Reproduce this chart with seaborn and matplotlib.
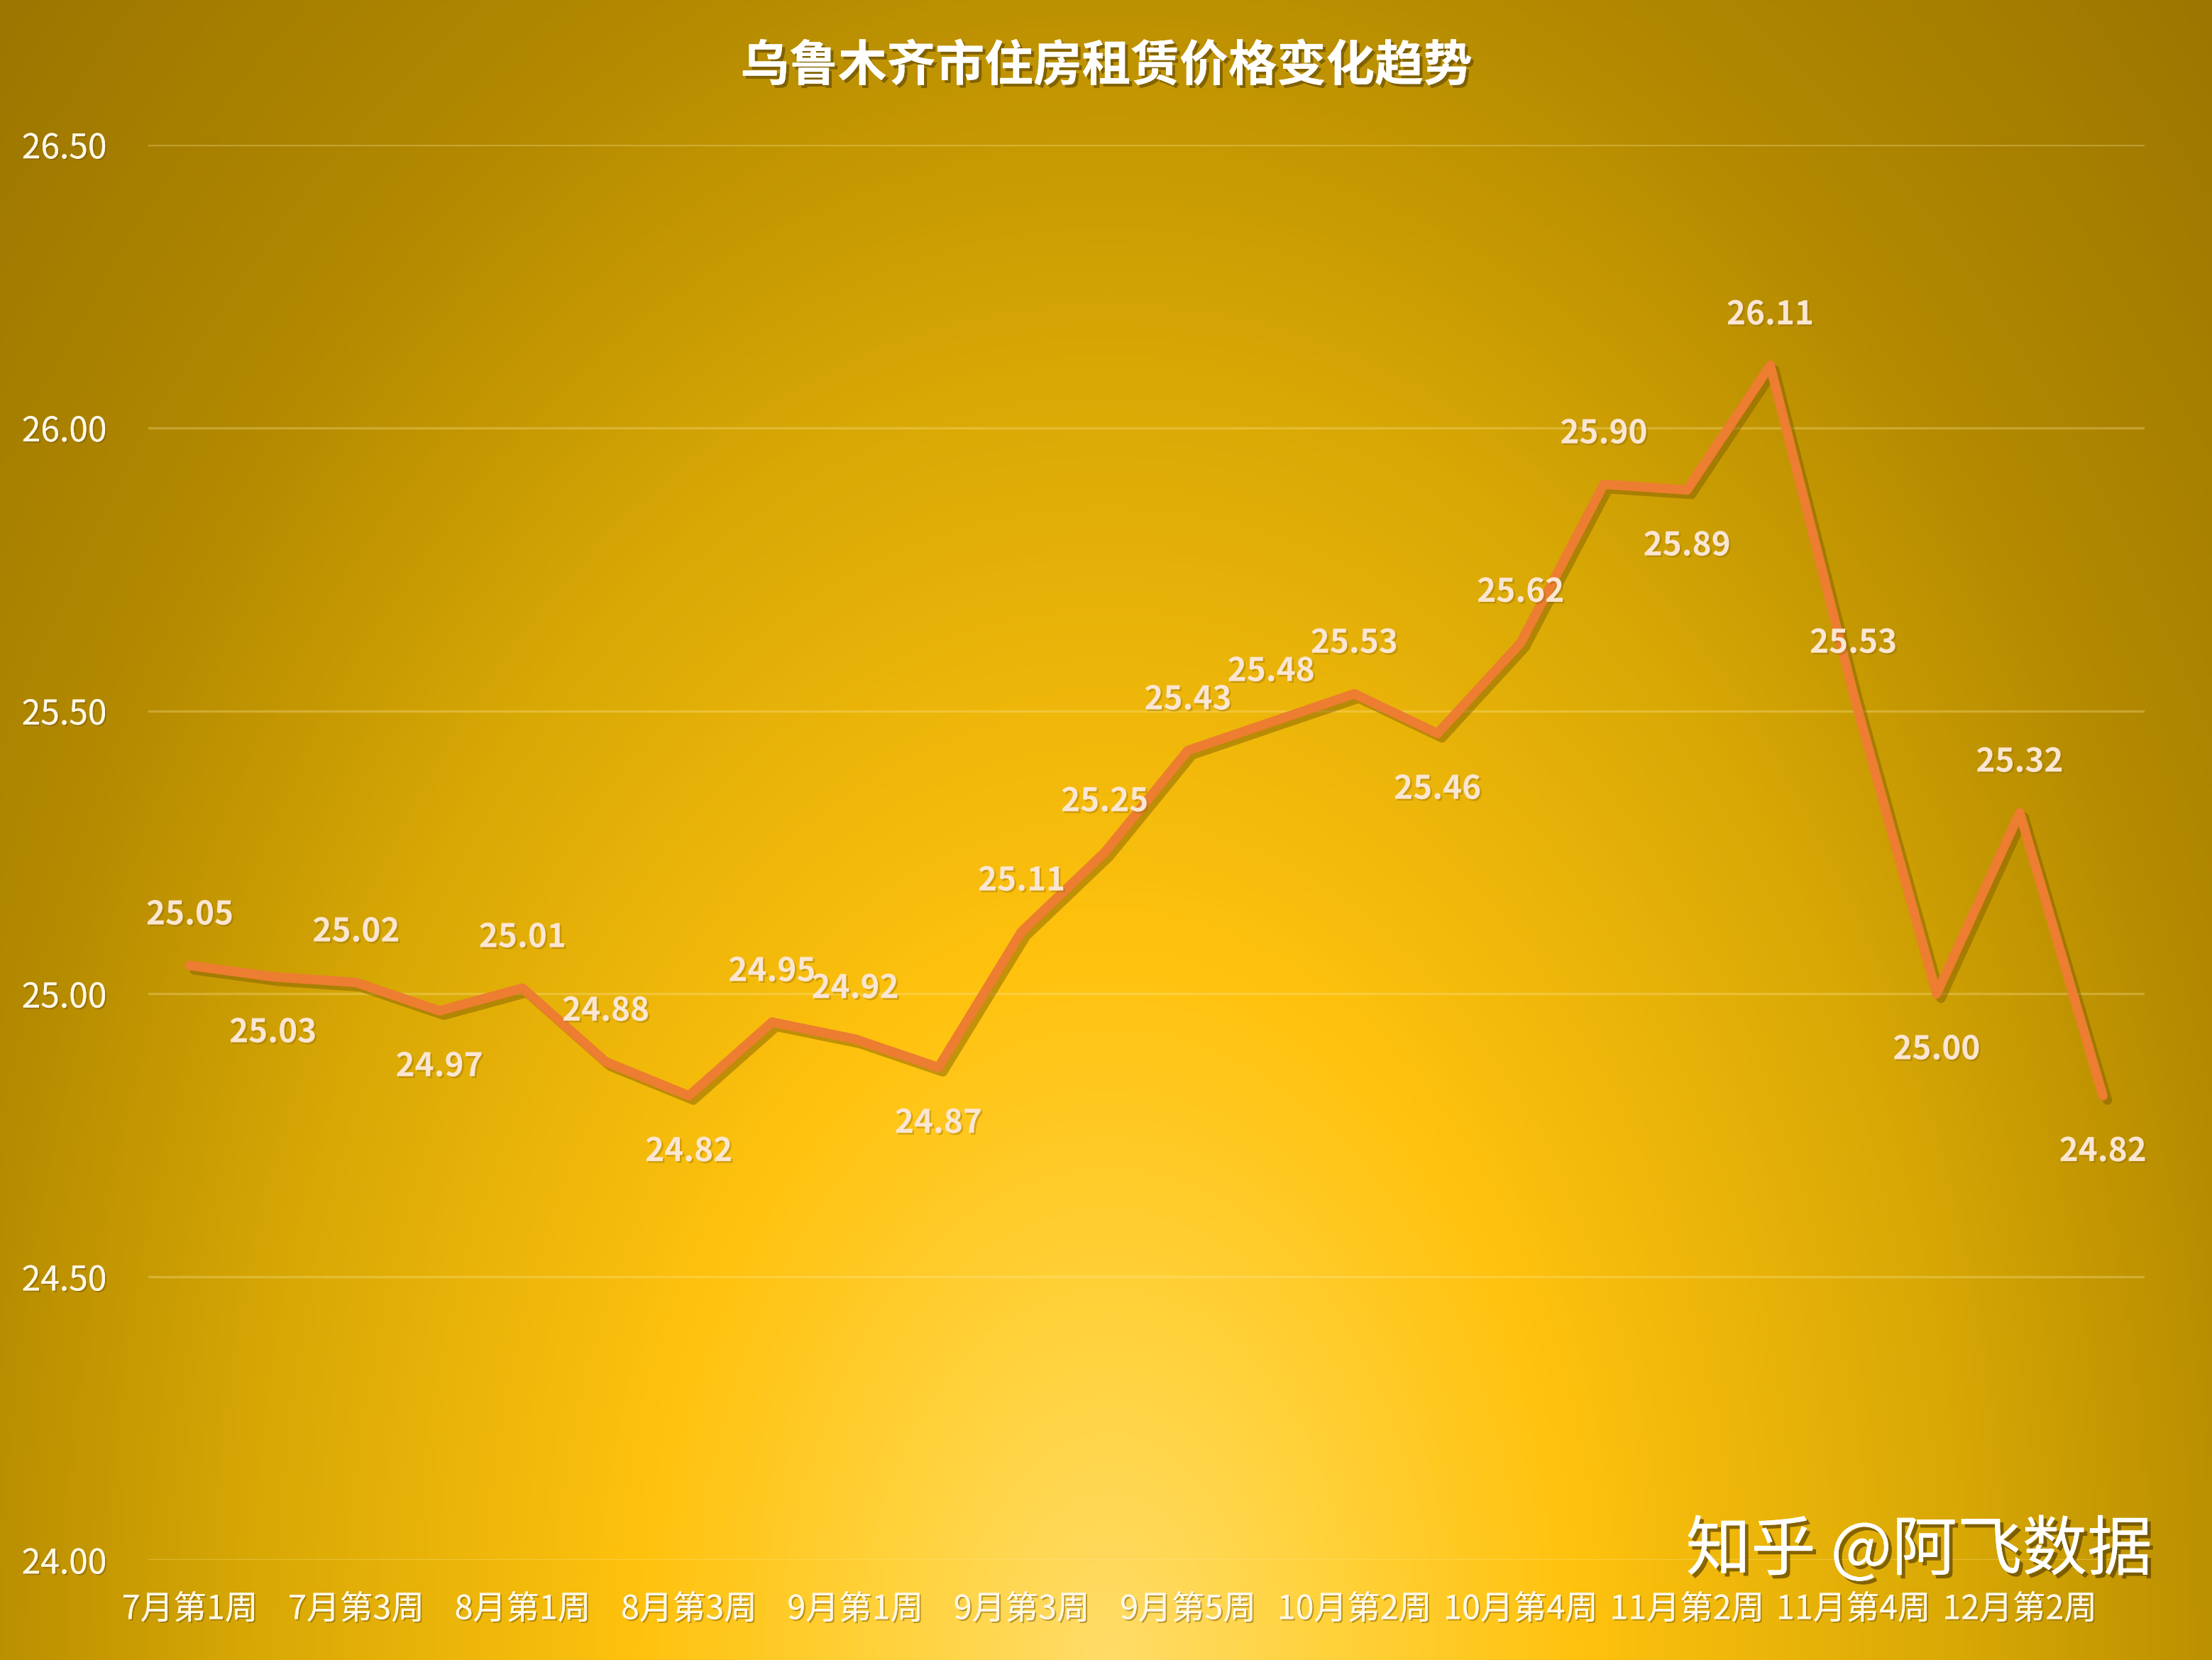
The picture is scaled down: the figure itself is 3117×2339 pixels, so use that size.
import numpy as np
import pandas as pd
import matplotlib
matplotlib.use('Agg')
import matplotlib.pyplot as plt
import matplotlib.patheffects as pe
from matplotlib.colors import LinearSegmentedColormap
import seaborn as sns

weeks = ['7月第1周', '7月第2周', '7月第3周', '7月第4周',
         '8月第1周', '8月第2周', '8月第3周', '8月第4周',
         '9月第1周', '9月第2周', '9月第3周', '9月第4周', '9月第5周',
         '10月第1周', '10月第2周', '10月第3周', '10月第4周',
         '11月第1周', '11月第2周', '11月第3周', '11月第4周',
         '12月第1周', '12月第2周', '12月第3周']
prices = [25.05, 25.03, 25.02, 24.97, 25.01, 24.88, 24.82, 24.95,
          24.92, 24.87, 25.11, 25.25, 25.43, 25.48, 25.53, 25.46,
          25.62, 25.90, 25.89, 26.11, 25.53, 25.00, 25.32, 24.82]
label_below = [1, 3, 6, 9, 15, 18, 21, 23]
y_ticks = [24.0, 24.5, 25.0, 25.5, 26.0, 26.5]

df = pd.DataFrame({'week': weeks, 'price': prices})

sns.set_style('white')
plt.rcParams['font.family'] = ['Noto Sans CJK SC', 'DejaVu Sans']

fig = plt.figure(figsize=(10.393, 7.797), dpi=300)

# radial gold background
bg = fig.add_axes([0, 0, 1, 1], zorder=0)
h, w = 400, 533
yy, xx = np.mgrid[0:h, 0:w]
r = np.sqrt(((xx / w - 0.5) / 0.52) ** 2 + ((yy / h - 1.0) / 1.05) ** 2)
gold = LinearSegmentedColormap.from_list('gold', [
    (0.0, '#FFDC68'), (0.14, '#FFD23C'), (0.3, '#FFC20E'),
    (0.55, '#D8A805'), (0.75, '#B48A00'), (1.0, '#9C7600')])
bg.imshow(np.clip(r / 1.35, 0, 1), cmap=gold, vmin=0, vmax=1, aspect='auto')
bg.set_axis_off()

ax = fig.add_axes([0.0670, 0.0603, 0.9022, 0.8525], zorder=1)
ax.patch.set_alpha(0)

sns.lineplot(data=df, x='week', y='price', ax=ax, color='#ED7D31', lw=3.2,
             sort=False,
             path_effects=[pe.SimpleLineShadow(offset=(1.5, -1.5), shadow_color='#7A5800', alpha=0.45),
                           pe.Normal()])

txt_fx = [pe.withSimplePatchShadow(offset=(0.6, -0.6), shadow_rgbFace='#8A6500', alpha=0.35)]
for i, v in enumerate(prices):
    dy = -19 if i in label_below else 17
    ax.annotate(f'{v:.2f}', (i, v), xytext=(0, dy), textcoords='offset points',
                ha='center', va='center', fontsize=11, fontweight='bold',
                color='#FBE6D3', zorder=5, path_effects=txt_fx)

ax.set_ylim(24.0, 26.5)
ax.set_xlim(-0.5, len(weeks) - 0.5)
ax.set_yticks(y_ticks)
ax.set_yticklabels([f'{t:.2f}' for t in y_ticks])
ax.set_xticks(range(0, len(weeks), 2))
ax.set_xticklabels(weeks[::2])
ax.grid(axis='y', color='#FFE9A0', alpha=0.3, lw=0.8)
ax.grid(axis='x', visible=False)
for s in ax.spines.values():
    s.set_visible(False)
tick_fx = [pe.withSimplePatchShadow(offset=(0.5, -0.5), shadow_rgbFace='#7A5A00', alpha=0.5), pe.Normal()]
ax.tick_params(axis='y', length=0, pad=14, labelsize=11.5, labelcolor='#FFF8E8')
ax.tick_params(axis='x', length=0, pad=11, labelsize=11.2, labelcolor='#FFF8E8')
for lab in ax.get_xticklabels() + ax.get_yticklabels():
    lab.set_path_effects(tick_fx)
ax.set_xlabel('')
ax.set_ylabel('')

fig.text(0.5, 0.96, '乌鲁木齐市住房租赁价格变化趋势', ha='center', va='center',
         fontsize=16.5, fontweight='bold', color='white',
         path_effects=[pe.withSimplePatchShadow(offset=(1, -1), shadow_rgbFace='#5A4200', alpha=0.6), pe.Normal()])
fig.text(0.9726, 0.0655, '知乎 @阿飞数据', ha='right', va='center', fontsize=22,
         color='white',
         path_effects=[pe.withSimplePatchShadow(offset=(1.2, -1.2), shadow_rgbFace='#5A4200', alpha=0.7), pe.Normal()])

fig.savefig('out.png', dpi=300)
